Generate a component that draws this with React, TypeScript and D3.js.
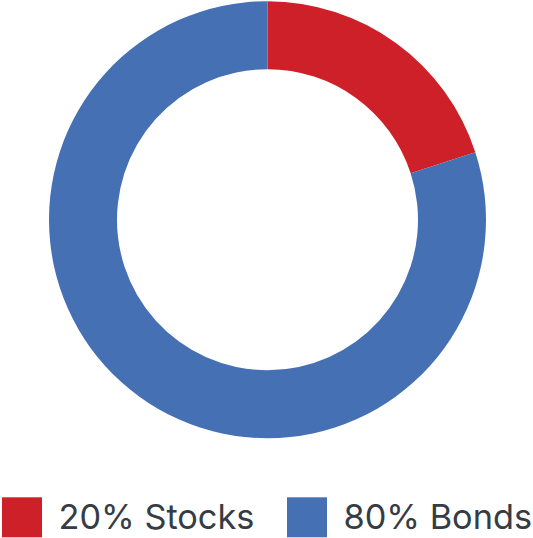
import React from 'react';
import * as d3 from 'd3';

const labels = ['20% Stocks', '80% Bonds'];
const values = [20, 80];
const colors = ['#CE2029', '#4570B4'];

function App() {
    const width = 533;
    const height = 538;
    const cx = 267.5;
    const cy = 219.7;
    const outerRadius = 218.5;
    const innerRadius = 150.5;

    const pie = d3.pie<number>().sort(null).value(d => d);
    const arc = d3.arc<d3.PieArcDatum<number>>()
        .innerRadius(innerRadius)
        .outerRadius(outerRadius);
    const arcs = pie(values);

    // legend positions
    const legendX = d3.scaleOrdinal<string, number>().domain(labels).range([2, 287]);
    const swatch = 40;
    const legendY = 497.3;

    return (
        <div style={{position: 'absolute', left: 0, top: 0}}>
            <svg width={width} height={height} style={{display: 'block'}}>
                <g transform={`translate(${cx},${cy})`}>
                    {arcs.map((a, i) => (
                        <path key={i} d={arc(a) || ''} fill={colors[i]}/>
                    ))}
                </g>
                <g>
                    {labels.map((l, i) => (
                        <g key={l} transform={`translate(${legendX(l)},${legendY})`}>
                            <rect width={swatch} height={swatch} fill={colors[i]}/>
                            <text x={56.5} y={32} fontFamily="Inter, 'Noto Sans', sans-serif"
                                  fontSize={34.3} fill="#363C44">{l}</text>
                        </g>
                    ))}
                </g>
            </svg>
        </div>
    );
}

export default App;
